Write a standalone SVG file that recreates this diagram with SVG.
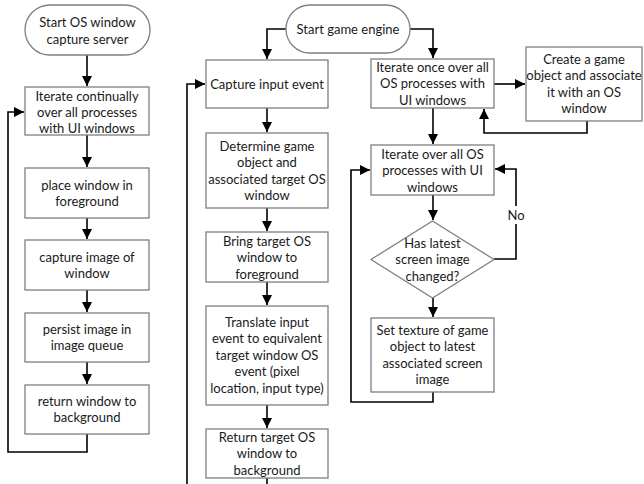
<svg xmlns="http://www.w3.org/2000/svg" width="644" height="484" viewBox="0 0 644 484">
<style>
.n{fill:#fff;stroke:#7f7f7f;stroke-width:1.3}
.t{font-family:Lato,"Liberation Sans",sans-serif;font-size:13px;fill:#1a1a1a;text-anchor:middle}
.c{fill:none;stroke:#000;stroke-width:1.6}
</style>
<defs>
<marker id="a" viewBox="0 0 10 10" refX="10" refY="5" markerWidth="10" markerHeight="10" markerUnits="userSpaceOnUse" orient="auto">
<path d="M0,0 L10,5 L0,10 z" fill="#000"/>
</marker>
</defs>
<rect width="644" height="484" fill="#fff"/>
<g id="connectors">
<path class="c" d="M87,55 V86" marker-end="url(#a)"/>
<path class="c" d="M87,135 V167" marker-end="url(#a)"/>
<path class="c" d="M87,218 V239" marker-end="url(#a)"/>
<path class="c" d="M87,290 V312" marker-end="url(#a)"/>
<path class="c" d="M87,362 V384" marker-end="url(#a)"/>
<path class="c" d="M87,434 V452 H8 V112 H24" marker-end="url(#a)"/>
<path class="c" d="M286,29 H267 V59" marker-end="url(#a)"/>
<path class="c" d="M410,29 H433 V58" marker-end="url(#a)"/>
<path class="c" d="M267,108 V132" marker-end="url(#a)"/>
<path class="c" d="M267,208 V231" marker-end="url(#a)"/>
<path class="c" d="M267,282 V305" marker-end="url(#a)"/>
<path class="c" d="M267,405 V428" marker-end="url(#a)"/>
<path class="c" d="M267,478 V484"/>
<path class="c" d="M187,484 V84 H205" marker-end="url(#a)"/>
<path class="c" d="M494,84 H525" marker-end="url(#a)"/>
<path class="c" d="M587,121 V133 H484 V109" marker-end="url(#a)"/>
<path class="c" d="M433,108 V144" marker-end="url(#a)"/>
<path class="c" d="M433,195 V220" marker-end="url(#a)"/>
<path class="c" d="M494,259 H516 V169 H495" marker-end="url(#a)"/>
<path class="c" d="M433,298 V317" marker-end="url(#a)"/>
<path class="c" d="M433,392 V402 H351 V170 H370" marker-end="url(#a)"/>
<rect x="505" y="206" width="22" height="18" fill="#fff"/>
<text class="t" x="516" y="219.5">No</text>
</g>
<g id="start-capture">
<rect class="n" x="25" y="5" width="125" height="50" rx="25"/>
<text class="t" x="87.5" y="27">Start OS window</text>
<text class="t" x="87.5" y="43.5">capture server</text>
</g>
<g id="iterate-continually">
<rect class="n" x="25" y="87" width="124" height="48"/>
<text class="t" x="87" y="100.5">Iterate continually</text>
<text class="t" x="87" y="116.5">over all processes</text>
<text class="t" x="87" y="132.5">with UI windows</text>
</g>
<g id="place-window">
<rect class="n" x="25" y="168" width="124" height="50"/>
<text class="t" x="87" y="189.5">place window  in</text>
<text class="t" x="87" y="206">foreground</text>
</g>
<g id="capture-image">
<rect class="n" x="25" y="240" width="124" height="50"/>
<text class="t" x="87" y="261.5">capture image of</text>
<text class="t" x="87" y="278">window</text>
</g>
<g id="persist-image">
<rect class="n" x="25" y="313" width="124" height="49"/>
<text class="t" x="87" y="333.5">persist image in</text>
<text class="t" x="87" y="350">image queue</text>
</g>
<g id="return-window">
<rect class="n" x="25" y="385" width="124" height="49"/>
<text class="t" x="87" y="405.5">return window to</text>
<text class="t" x="87" y="422">background</text>
</g>
<g id="start-engine">
<rect class="n" x="286" y="5" width="124" height="48" rx="24"/>
<text class="t" x="348" y="33.5">Start game engine</text>
</g>
<g id="capture-input">
<rect class="n" x="206" y="60" width="122" height="48"/>
<text class="t" x="267" y="88.5">Capture input event</text>
</g>
<g id="determine-object">
<rect class="n" x="206" y="133" width="122" height="75"/>
<text class="t" x="267" y="150.5">Determine game</text>
<text class="t" x="267" y="167">object and</text>
<text class="t" x="267" y="183.5">associated target OS</text>
<text class="t" x="267" y="200">window</text>
</g>
<g id="bring-foreground">
<rect class="n" x="206" y="232" width="122" height="50"/>
<text class="t" x="267" y="245.5">Bring target OS</text>
<text class="t" x="267" y="262">window to</text>
<text class="t" x="267" y="278.5">foreground</text>
</g>
<g id="translate-input">
<rect class="n" x="206" y="306" width="122" height="99"/>
<text class="t" x="267" y="326.5">Translate input</text>
<text class="t" x="267" y="343">event to equivalent</text>
<text class="t" x="267" y="359.5">target window OS</text>
<text class="t" x="267" y="376">event (pixel</text>
<text class="t" x="267" y="392.5">location, input type)</text>
</g>
<g id="return-target">
<rect class="n" x="206" y="429" width="122" height="49"/>
<text class="t" x="267" y="441.5">Return target OS</text>
<text class="t" x="267" y="458">window to</text>
<text class="t" x="267" y="474.5">background</text>
</g>
<g id="iterate-once">
<rect class="n" x="371" y="59" width="123" height="49"/>
<text class="t" x="432.5" y="71.5">Iterate once over all</text>
<text class="t" x="432.5" y="88">OS processes with</text>
<text class="t" x="432.5" y="104.5">UI windows</text>
</g>
<g id="create-object">
<rect class="n" x="526" y="47" width="116" height="74"/>
<text class="t" x="584" y="63.5">Create a game</text>
<text class="t" x="584" y="80">object and associate</text>
<text class="t" x="584" y="96.5">it with an OS</text>
<text class="t" x="584" y="113">window</text>
</g>
<g id="iterate-all">
<rect class="n" x="371" y="145" width="123" height="50"/>
<text class="t" x="432.5" y="158.5">Iterate over all OS</text>
<text class="t" x="432.5" y="175">processes with UI</text>
<text class="t" x="432.5" y="191.5">windows</text>
</g>
<g id="image-changed">
<path class="n" d="M432.5,221 L494,259.5 L432.5,298 L371,259.5 z"/>
<text class="t" x="432.5" y="247.5">Has latest</text>
<text class="t" x="432.5" y="264">screen image</text>
<text class="t" x="432.5" y="280.5">changed?</text>
</g>
<g id="set-texture">
<rect class="n" x="371" y="318" width="123" height="74"/>
<text class="t" x="432.5" y="334.5">Set texture of game</text>
<text class="t" x="432.5" y="351">object to latest</text>
<text class="t" x="432.5" y="367.5">associated screen</text>
<text class="t" x="432.5" y="384">image</text>
</g>
</svg>
